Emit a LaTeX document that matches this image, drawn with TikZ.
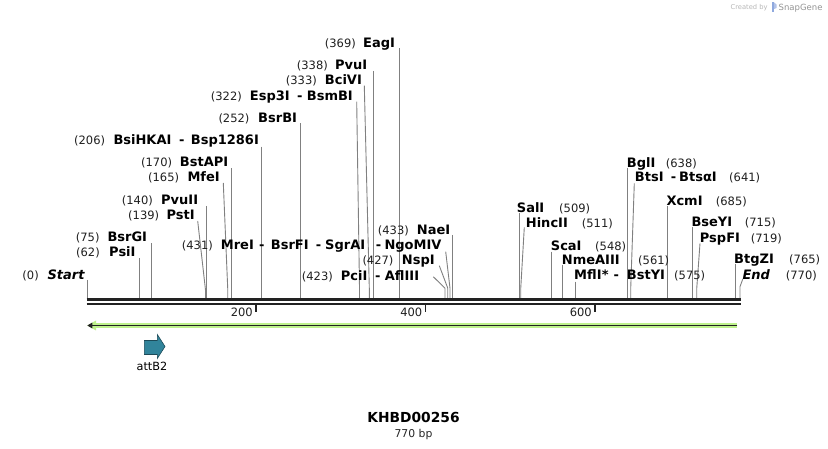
\documentclass[tikz,border=0pt]{standalone}
\usepackage{fontspec}
\setmainfont{DejaVu Sans}
\usetikzlibrary{arrows.meta}
\definecolor{gfill}{RGB}{190,242,140}
\definecolor{attc}{RGB}{49,132,155}
\definecolor{attd}{RGB}{28,74,88}
\definecolor{sitec}{RGB}{128,128,128}
\definecolor{bbc}{RGB}{34,34,34}
\tikzset{
  nm/.style={font=\fontsize{13}{15}\selectfont\bfseries, inner sep=0pt, anchor=base west, text=black},
  nmi/.style={font=\fontsize{13}{15}\selectfont\bfseries\itshape, inner sep=0pt, anchor=base west, text=black},
  num/.style={font=\fontsize{11.5}{13}\selectfont, inner sep=0pt, anchor=base west, text=black!88},
  site/.style={draw=sitec, line width=0.9pt},
  tickmark/.style={draw=bbc, line width=1.6pt},
}
\newcommand\vsite[3]{\coordinate (#1t) at (#2,#3); \coordinate (#1b) at (#2,298.5); \draw[site] (#1t) -- (#1b);}
\newcommand\ksite[5]{\coordinate (#1t) at (#2,#3); \coordinate (#1k) at (#4,#5); \coordinate (#1b) at (#4,298.5); \draw[site] (#1t) -- (#1k) -- (#1b);}
\newcommand\mytxt[5]{\node[#1] (#2) at ({#3-1},{#4+4.75}) {#5};}
\begin{document}
\begin{tikzpicture}[x=1pt,y=-1pt]
\useasboundingbox (0,0) rectangle (828,449);
\fill[white] (0,0) rectangle (828,449);

% site lines
\vsite{s0}{87.3}{280}
\vsite{s62}{139.3}{258.3}
\vsite{s75}{151.7}{243.3}
\ksite{s139}{197.7}{221}{205.5}{290}
\vsite{s140}{206.7}{206}
\ksite{s165}{223.3}{183}{227.7}{288}
\vsite{s170}{231}{168.3}
\vsite{s206}{261.3}{146.7}
\vsite{s252}{300.3}{123.3}
\ksite{s322}{356.7}{101.7}{359.5}{288}
\ksite{s333}{364.3}{85.7}{369.3}{288}
\vsite{s338}{373.3}{71}
\vsite{s369}{399.3}{48.3}
\vsite{s433}{452.7}{235}
\ksite{s431}{445.7}{251.7}{450}{288.3}
\ksite{s427}{439.3}{265.7}{447.7}{288}
\ksite{s423}{433.3}{276.7}{445}{288.3}
\vsite{s509}{519}{213.3}
\ksite{s511}{524.3}{227.3}{520.7}{289}
\vsite{s548}{551.7}{251.7}
\vsite{s561}{562.3}{265}
\vsite{s575}{575}{281.7}
\vsite{s638}{627.7}{168.3}
\ksite{s641}{634.3}{183.3}{630.7}{289}
\vsite{s685}{667.7}{206}
\vsite{s715}{692.3}{227.3}
\ksite{s719}{700}{243.3}{696.7}{289}
\vsite{s765}{735.7}{264}
\ksite{s770}{742.7}{279.3}{740}{286.7}

% backbone
\coordinate (bbL) at (86.5,300);
\coordinate (bbR) at (741,300);
\coordinate (bbL2) at (86.5,304.2);
\coordinate (bbR2) at (741,304.2);
\draw[bbc, line width=3pt] (bbL) -- (bbR);
\draw[bbc, line width=1.8pt] (bbL2) -- (bbR2);

% ticks
\coordinate (k200t) at (256,305); \coordinate (k200b) at (256,312);
\coordinate (k400t) at (425.5,305); \coordinate (k400b) at (425.5,312);
\coordinate (k600t) at (595,305); \coordinate (k600b) at (595,312);
\draw[tickmark] (k200t) -- (k200b);
\draw[tickmark] (k400t) -- (k400b);
\draw[tickmark] (k600t) -- (k600b);
\node[num, anchor=base east] (l200) at (253,316.2) {200};
\node[num, anchor=base east] (l400) at (422.5,316.2) {400};
\node[num, anchor=base east] (l600) at (592,316.2) {600};

% green arrow
\coordinate (gA) at (87.3,325.5);
\coordinate (gB) at (737,325.5);
\coordinate (gA2) at (95,325.5);
\fill[gfill] (87.3,325.5) -- (96,320.5) -- (96,330.5) -- cycle;
\draw[gfill, line width=4.4pt] (gA2) -- (gB);
\draw[bbc, line width=1.8pt, -{Triangle[length=5pt,width=5.5pt]}] (gB) -- (gA);

% attB2 feature
\filldraw[fill=attc, draw=attd, line width=0.6pt] (144.3,340.5) -- (157.3,340.5) -- (157.3,334.5) -- (165,346.5) -- (157.3,358.5) -- (157.3,354.5) -- (144.3,354.5) -- cycle;
\node[font=\fontsize{11.3}{13}\selectfont, inner sep=0pt, anchor=base] (attl) at (152,370.8) {attB2};

% left labels
\mytxt{num}{n0}{23.3}{275}{(0)}
\mytxt{nmi}{t0}{48.3}{275}{Start}
\mytxt{num}{n62}{77}{251.7}{(62)}
\mytxt{nm}{t62}{110}{251.7}{PsiI}
\mytxt{num}{n75}{76.7}{236.7}{(75)}
\mytxt{nm}{t75}{108.3}{236.7}{BsrGI}
\mytxt{num}{n139}{129}{214.3}{(139)}
\mytxt{nm}{t139}{167.3}{214.3}{PstI}
\mytxt{num}{n140}{122.7}{199.5}{(140)}
\mytxt{nm}{t140}{162}{199.5}{PvuII}
\mytxt{num}{n165}{149}{176.7}{(165)}
\mytxt{nm}{t165}{188.3}{176.7}{MfeI}
\mytxt{num}{n170}{142}{161.7}{(170)}
\mytxt{nm}{t170}{180.7}{161.7}{BstAPI}
\mytxt{num}{n206}{75}{140}{(206)}
\mytxt{nm}{t206a}{114.3}{140}{BsiHKAI}
\mytxt{nm}{d206}{180}{140}{-}
\mytxt{nm}{t206b}{191.7}{140}{Bsp1286I}
\mytxt{num}{n252}{219.3}{117.3}{(252)}
\mytxt{nm}{t252}{259}{117.3}{BsrBI}
\mytxt{num}{n322}{211.7}{95.7}{(322)}
\mytxt{nm}{t322a}{250.7}{95.7}{Esp3I}
\mytxt{nm}{d322}{298}{95.7}{-}
\mytxt{nm}{t322b}{307.7}{95.7}{BsmBI}
\mytxt{num}{n333}{286.7}{80}{(333)}
\mytxt{nm}{t333}{325.7}{80}{BciVI}
\mytxt{num}{n338}{297.7}{65}{(338)}
\mytxt{nm}{t338}{336}{65}{PvuI}
\mytxt{num}{n369}{325.7}{42.3}{(369)}
\mytxt{nm}{t369}{364}{42.3}{EagI}
\mytxt{num}{n431}{182.7}{244.3}{(431)}
\mytxt{nm}{t431a}{221.7}{244.3}{MreI}
\mytxt{nm}{d431a}{260}{244.3}{-}
\mytxt{nm}{t431b}{271.7}{244.3}{BsrFI}
\mytxt{nm}{d431b}{316.7}{244.3}{-}
\mytxt{nm}{t431c}{326}{244.3}{SgrAI}
\mytxt{nm}{d431c}{376.7}{244.3}{-}
\mytxt{nm}{t431d}{385.3}{244.3}{NgoMIV}
\mytxt{num}{n423}{302.7}{275.7}{(423)}
\mytxt{nm}{t423a}{341.7}{275.7}{PciI}
\mytxt{nm}{d423}{376}{275.7}{-}
\mytxt{nm}{t423b}{385.7}{275.7}{AflIII}
\mytxt{num}{n427}{363.3}{260}{(427)}
\mytxt{nm}{t427}{402.7}{260}{NspI}
\mytxt{num}{n433}{378.7}{230}{(433)}
\mytxt{nm}{t433}{417.7}{230}{NaeI}

% right labels
\mytxt{nm}{t509}{517.7}{207.7}{SalI}
\mytxt{num}{n509}{560}{207.7}{(509)}
\mytxt{nm}{t511}{526.7}{222.3}{HincII}
\mytxt{num}{n511}{582.7}{222.3}{(511)}
\mytxt{nm}{t548}{551.7}{246}{ScaI}
\mytxt{num}{n548}{596}{246}{(548)}
\mytxt{nm}{t561}{562.7}{259.3}{NmeAIII}
\mytxt{num}{n561}{639}{259.3}{(561)}
\mytxt{nm}{t575a}{575}{275}{MflI}
\mytxt{nm}{s575}{602.7}{275}{*}
\mytxt{nm}{d575}{614.3}{275}{-}
\mytxt{nm}{t575b}{627.7}{275}{BstYI}
\mytxt{num}{n575}{675}{275}{(575)}
\mytxt{nm}{t638}{627.7}{162.7}{BglI}
\mytxt{num}{n638}{666.7}{162.7}{(638)}
\mytxt{nm}{t641a}{635.7}{176.7}{BtsI}
\mytxt{nm}{d641}{671.7}{176.7}{-}
\mytxt{nm}{t641b}{680}{176.7}{BtsαI}
\mytxt{num}{n641}{730}{176.7}{(641)}
\mytxt{nm}{t685}{667.3}{200.7}{XcmI}
\mytxt{num}{n685}{716.7}{200.7}{(685)}
\mytxt{nm}{t715}{692.3}{221.7}{BseYI}
\mytxt{num}{n715}{745.7}{221.7}{(715)}
\mytxt{nm}{t719}{700.7}{237.3}{PspFI}
\mytxt{num}{n719}{751.7}{237.3}{(719)}
\mytxt{nm}{t765}{735}{259}{BtgZI}
\mytxt{num}{n765}{790}{259}{(765)}
\mytxt{nmi}{t770}{743.3}{275}{End}
\mytxt{num}{n770}{786.7}{275}{(770)}

% title
\node[font=\fontsize{13.8}{16}\selectfont\bfseries, inner sep=0pt, anchor=base] (title) at (413.5,422.1) {KHBD00256};
\node[font=\fontsize{10.8}{13}\selectfont, inner sep=0pt, anchor=base, text=black!85] (size) at (413.5,437) {770 bp};

% watermark
\node[font=\fontsize{6.7}{8}\selectfont, inner sep=0pt, anchor=base west, text=black!28] (cby) at (730.5,9.8) {Created by};
\fill[cyan!45!blue!45] (772,2.5) rectangle (774.2,12);
\fill[cyan!45!blue!30] (774.2,2.5) -- (776.5,4.5) -- (776.5,8) -- (774.2,9) -- cycle;
\node[font=\fontsize{8.5}{10}\selectfont, inner sep=0pt, anchor=base west, text=black!42] (sg) at (778.5,10.6) {SnapGene};
\end{tikzpicture}
\end{document}
